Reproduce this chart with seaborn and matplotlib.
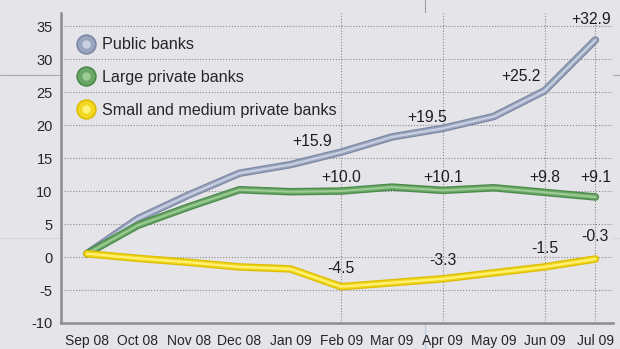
import matplotlib
matplotlib.use("Agg")
import matplotlib.pyplot as plt
from matplotlib import font_manager
from matplotlib.lines import Line2D
from matplotlib.legend_handler import HandlerTuple
import seaborn as sns
import pandas as pd

# --- data -----------------------------------------------------------------
months = ["Sep 08", "Oct 08", "Nov 08", "Dec 08", "Jan 09", "Feb 09",
          "Mar 09", "Apr 09", "May 09", "Jun 09", "Jul 09"]
public_banks = [0.5, 5.8, 9.4, 12.7, 14.0, 15.9, 18.2, 19.5, 21.3, 25.2, 32.9]
large_private = [0.5, 4.8, 7.6, 10.2, 9.9, 10.0, 10.6, 10.1, 10.5, 9.8, 9.1]
small_medium_private = [0.5, -0.2, -0.8, -1.5, -1.8, -4.5, -3.9, -3.3, -2.4, -1.5, -0.3]
series_names = ["Public banks", "Large private banks", "Small and medium private banks"]
labelled_months = ["Feb 09", "Apr 09", "Jun 09", "Jul 09"]
y_ticks = [-10, -5, 0, 5, 10, 15, 20, 25, 30, 35]

series_values = [public_banks, large_private, small_medium_private]
df = pd.DataFrame({
    "month": months * 3,
    "value": public_banks + large_private + small_medium_private,
    "series": [n for n in series_names for _ in months],
})

# --- styling ----------------------------------------------------------------
BG = "#e5e4e9"
outer_colors = ["#7d88a3", "#4c8a4c", "#dcbc00"]
inner_colors = ["#c9d1e3", "#9ccc94", "#fff27a"]
mid_colors = ["#9aa5bf", "#6aa766", "#f3d820"]

sns.set_theme(style="white")
installed = {f.name for f in font_manager.fontManager.ttflist}
narrow = "Liberation Sans Narrow" if "Liberation Sans Narrow" in installed else "Liberation Sans"
plt.rcParams["font.family"] = ["Liberation Sans", "DejaVu Sans"]

fig = plt.figure(figsize=(6.2, 3.49), dpi=100, facecolor=BG)
ax = fig.add_axes([0.0984, 0.0745, 0.8906, 0.8885])
ax.set_facecolor(BG)

# page rules running behind the chart
fig.add_artist(Line2D([0, 1], [1 - 75 / 349] * 2, color="#a9a9ae", lw=0.8, zorder=0))
fig.add_artist(Line2D([0, 1], [1 - 238 / 349] * 2, color="#d2d2d8", lw=0.8, zorder=0))
fig.add_artist(Line2D([425 / 620] * 2, [1 - 250 / 349, 1], color="#9c9ca2", lw=0.8, zorder=0))
fig.add_artist(Line2D([425 / 620] * 2, [0, 1 - 250 / 349], color="#b8c6de", lw=0.8, zorder=0))

# dotted grid
dots = (0, (1, 1.6))
for yv in y_ticks[1:]:
    ax.axhline(yv, color="#8a8a8e", lw=0.8, ls=dots, zorder=1)
for m in labelled_months:
    ax.axvline(months.index(m), color="#8a8a8e", lw=0.8, ls=dots, zorder=1)

# tube-like lines: dark outer stroke, lighter core
for i, name in enumerate(series_names):
    sub = df[df["series"] == name]
    for col, lw in ((outer_colors[i], 5.4), (mid_colors[i], 3.6), (inner_colors[i], 1.5)):
        sns.lineplot(data=sub, x="month", y="value", ax=ax, color=col,
                     lw=lw, sort=False, legend=False, zorder=3 + i,
                     solid_capstyle="round", solid_joinstyle="round")

# value labels
label_offsets = [
    [(-21, 8), (-11, 8), (-17, 10), (-3, 15)],
    [(0, 10), (0, 9), (0, 11), (0, 14)],
    [(0, 13), (0, 13), (0, 13), (0, 16)],
]
for i, vals in enumerate(series_values):
    for m, off in zip(labelled_months, label_offsets[i]):
        v = vals[months.index(m)]
        ax.annotate(f"{v:+.1f}", (months.index(m), v), xytext=off,
                    textcoords="offset points", ha="center", va="center",
                    fontsize=11.3, color="#1e1e1e", zorder=10)

# axes
ax.set_xlim(-0.51, 10.35)
ax.set_ylim(-10, 37.0)
ax.set_yticks(y_ticks)
ax.set_yticklabels([str(t) for t in y_ticks])
ax.set_xlabel("")
ax.set_ylabel("")
for s in ["top", "right"]:
    ax.spines[s].set_visible(False)
for s in ["left", "bottom"]:
    ax.spines[s].set_color("#8c8c8c")
    ax.spines[s].set_linewidth(1.8)
ax.tick_params(axis="y", length=0, pad=6, labelsize=10.5, labelcolor="#262626")
ax.tick_params(axis="x", length=3, width=1.2, color="#8c8c8c", direction="out",
               pad=5, labelsize=10, labelcolor="#262626")

# legend with ball markers
handles = []
for i in range(3):
    ball = Line2D([], [], ls="none", marker="o", markersize=13.5,
                  markerfacecolor=mid_colors[i], markeredgecolor=outer_colors[i],
                  markeredgewidth=1.2)
    shine = Line2D([], [], ls="none", marker="o", markersize=6,
                   markerfacecolor=inner_colors[i], markeredgecolor="none")
    handles.append((ball, shine))
leg = ax.legend(handles, series_names, handler_map={tuple: HandlerTuple(ndivide=1)},
                loc="upper left", bbox_to_anchor=(0.030, 0.921), frameon=False,
                handlelength=1.0, handletextpad=0.52, labelspacing=1.1,
                borderpad=0, borderaxespad=0, labelcolor="#262626",
                prop={"family": [narrow, "Liberation Sans", "DejaVu Sans"], "size": 11.6})

fig.savefig("out.png", dpi=100, facecolor=BG)
